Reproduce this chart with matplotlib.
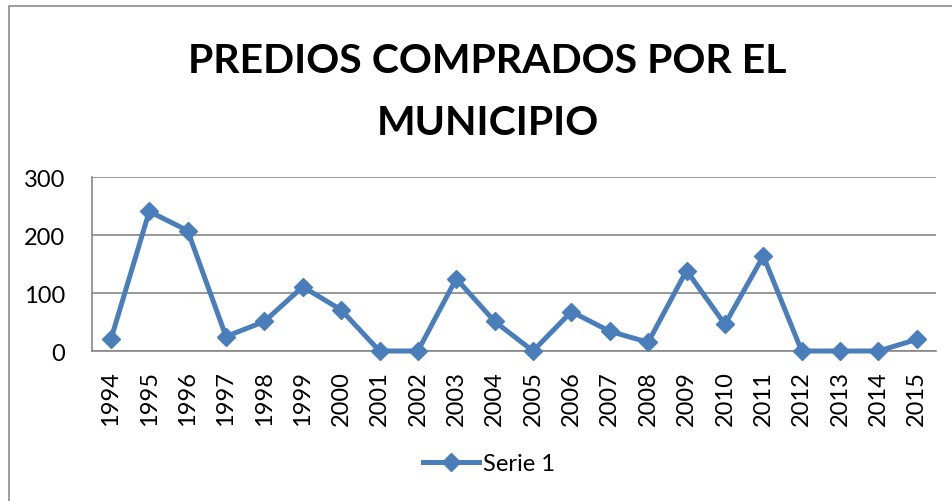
import matplotlib.pyplot as plt
from matplotlib.patches import Rectangle

# data
years = [str(y) for y in range(1994, 2016)]
serie_1 = [20, 241, 208, 25, 51, 111, 71, 0, 0, 125, 51, 0, 68, 34, 15,
           139, 46, 164, 0, 0, 0, 20]
title_lines = ['PREDIOS COMPRADOS POR EL', 'MUNICIPIO']
y_ticks = [0, 100, 200, 300]

blue = '#4a7ebb'
grey = '#868686'
font = 'Lato'

fig = plt.figure(figsize=(9.52, 5.02), dpi=100)
plt.rcParams['font.family'] = [font, 'DejaVu Sans']

# outer chart border (only left and top edges are visible in the crop)
fig.patches.append(Rectangle((8.5 / 952, -0.2), 1.2, 1.2 - 7 / 502,
                             transform=fig.transFigure, fill=False,
                             edgecolor='#8c8c8c', linewidth=1.2))

ax = fig.add_axes([0.0963, 0.2988, 0.9832 - 0.0963, 0.6448 - 0.2988])

x = list(range(len(years)))
ax.plot(x, serie_1, color=blue, linewidth=3.6, marker='D', markersize=9,
        markeredgewidth=1, markeredgecolor=blue, label='Serie 1',
        clip_on=False, zorder=3)

ax.set_xlim(-0.5, len(years) - 0.5)
ax.set_ylim(0, 300)
ax.set_yticks(y_ticks)
ax.set_xticks(x)
ax.set_xticklabels(years, rotation=90)
ax.tick_params(axis='both', length=0, labelsize=17)
ax.tick_params(axis='x', pad=14)
ax.tick_params(axis='y', pad=19)

ax.grid(axis='y', color=grey, linewidth=1.2)
ax.set_axisbelow(True)
for side in ['top', 'right']:
    ax.spines[side].set_visible(False)
for side in ['left', 'bottom']:
    ax.spines[side].set_color(grey)
    ax.spines[side].set_linewidth(1.2)

# two-line bold title
fig.text(0.5122, 1 - 73 / 502, title_lines[0], ha='center', va='baseline',
         fontsize=29.5, fontweight='bold')
fig.text(0.5122, 1 - 135 / 502, title_lines[1], ha='center', va='baseline',
         fontsize=29.5, fontweight='bold')

fig.legend(loc='center', bbox_to_anchor=(0.514, 1 - 465 / 502), frameon=False,
           fontsize=17, handlelength=2.35, handletextpad=0.18)

fig.savefig('out.png', dpi=100)
